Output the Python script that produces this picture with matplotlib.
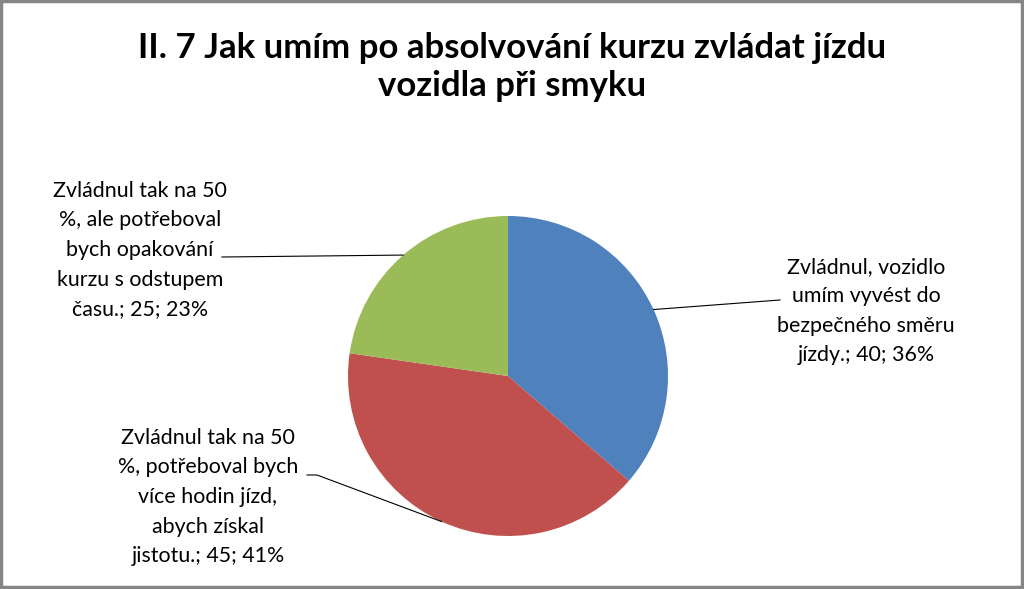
import numpy as np
import matplotlib.pyplot as plt
from matplotlib.patches import Rectangle

plt.rcParams['font.family'] = ['Lato', 'DejaVu Sans']

title = "II. 7 Jak umím po absolvování kurzu zvládat jízdu\nvozidla při smyku"
values = [40, 45, 25]
percents = ["36%", "41%", "23%"]
labels = [
    "Zvládnul, vozidlo\numím vyvést do\nbezpečného směru\njízdy.",
    "Zvládnul tak na 50\n%, potřeboval bych\nvíce hodin jízd,\nabych získal\njistotu.",
    "Zvládnul tak na 50\n%, ale potřeboval\nbych opakování\nkurzu s odstupem\nčasu.",
]
colors = ["#4F81BD", "#C0504D", "#9BBB59"]

# label text centres and leader-line elbows, in pixels from top-left
label_pos = [(866, 311), (208, 497), (140, 250)]
elbows = [[(780, 300)], [(317, 475), (307, 475)], [(222, 257)]]

W, H = 1024, 589
fig = plt.figure(figsize=(W / 100, H / 100), dpi=100)
ax = fig.add_axes([0, 0, 1, 1])

cx, cy, r = 508, H - 376, 160
wedges, _ = ax.pie(values, colors=colors, startangle=90, counterclock=False,
                   center=(cx, cy), radius=r, frame=True,
                   wedgeprops=dict(linewidth=0))
ax.set_xlim(0, W)
ax.set_ylim(0, H)
ax.axis("off")

for w, lab, val, pct, (lx, ly), elb in zip(wedges, labels, values, percents, label_pos, elbows):
    mid = np.deg2rad((w.theta1 + w.theta2) / 2)
    ex, ey = cx + r * np.cos(mid), cy + r * np.sin(mid)
    xs = [ex] + [p[0] for p in elb]
    ys = [ey] + [H - p[1] for p in elb]
    ax.plot(xs, ys, color="black", lw=0.8)
    ax.text(lx, H - ly, f"{lab}; {val}; {pct}", ha="center", va="center",
            fontsize=15.4, linespacing=1.6, color="black")

fig.text(0.5, 1 - 67 / H, title, ha="center", va="center", fontsize=25,
         fontweight="bold", linespacing=1.22)

fig.patches.append(Rectangle((0.001, 0.003), 0.997, 0.995, transform=fig.transFigure,
                             fill=False, edgecolor="#868686", lw=2.5))

fig.savefig("out.png", dpi=100)
